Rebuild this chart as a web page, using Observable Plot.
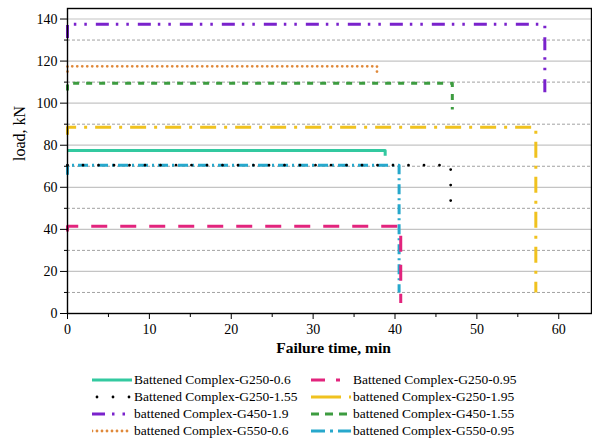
<!DOCTYPE html>
<html>
<head>
<meta charset="utf-8">
<script src="https://cdn.jsdelivr.net/npm/d3@7"></script>
<script src="https://cdn.jsdelivr.net/npm/@observablehq/plot@0.6"></script>
<style>
  body { margin: 0; background: white; font-family: "Liberation Serif", Tinos, "Times New Roman", "DejaVu Serif", serif; }
  #wrap { position: relative; width: 592px; height: 438px; }
  #chart svg, #chart svg text { font-family: "Liberation Serif", Tinos, "Times New Roman", "DejaVu Serif", serif !important; }
  #legend { position: absolute; left: 0; top: 371px; width: 592px; }
  .item { position: absolute; height: 17px; display: flex; align-items: center; font-size: 13.5px; white-space: nowrap; color: #000; }
  .item svg { flex: none; }
</style>
</head>
<body>
<div id="wrap"><div id="chart"></div><div id="legend"></div></div>
<script>
// ---- data ----
const seriesNames = [
  "Battened Complex-G250-0.6",
  "Battened Complex-G250-0.95",
  "Battened Complex-G250-1.55",
  "battened Complex-G250-1.95",
  "battened Complex-G450-1.9",
  "battened Complex-G450-1.55",
  "battened Complex-G550-0.6",
  "battened Complex-G550-0.95"
];
const timeG250_06  = [0, 38.8, 38.8];
const loadG250_06  = [77.5, 77.5, 75];
const timeG250_095 = [0, 0, 40.7, 40.7];
const loadG250_095 = [39, 41.5, 41.5, 5];
const timeG250_155 = [0, 46.8, 46.8];
const loadG250_155 = [70.5, 70.5, 48];
const timeG250_195 = [0, 0, 57.2, 57.2];
const loadG250_195 = [85, 88.5, 88.5, 10];
const timeG450_19  = [0, 0, 58.3, 58.3];
const loadG450_19  = [131, 137.5, 137.5, 105];
const timeG450_155 = [0, 0, 47, 47];
const loadG450_155 = [106, 109.5, 109.5, 97];
const timeG550_06  = [0, 0, 37.8, 37.8];
const loadG550_06  = [115, 117.5, 117.5, 113.5];
const timeG550_095 = [0, 0, 40.5, 40.5];
const loadG550_095 = [66, 70.5, 70.5, 10];

const xMajorTicks = [0, 10, 20, 30, 40, 50, 60];
const xMinorTicks = [5, 15, 25, 35, 45, 55];
const yMajorTicks = [0, 20, 40, 60, 80, 100, 120, 140];
const yMinorTicks = [10, 30, 50, 70, 90, 110, 130];

// ---- styles ----
const seriesData = [
  [timeG250_06, loadG250_06],
  [timeG250_095, loadG250_095],
  [timeG250_155, loadG250_155],
  [timeG250_195, loadG250_195],
  [timeG450_19, loadG450_19],
  [timeG450_155, loadG450_155],
  [timeG550_06, loadG550_06],
  [timeG550_095, loadG550_095]
];
const styles = [
  {stroke: "#33c9a0", strokeWidth: 3, dash: null, cap: "butt"},
  {stroke: "#e2247d", strokeWidth: 3, dash: "16 13", cap: "butt"},
  {stroke: "#000000", strokeWidth: 2.8, dash: "0 15.5", cap: "round"},
  {stroke: "#f0c21f", strokeWidth: 3, dash: "16 8 3 8", cap: "butt"},
  {stroke: "#7a22cc", strokeWidth: 3, dash: "13 7 2.5 8 2.5 9", cap: "butt"},
  {stroke: "#3d9c40", strokeWidth: 3, dash: "6 7", cap: "butt"},
  {stroke: "#e0893a", strokeWidth: 2.8, dash: "0 5", cap: "round"},
  {stroke: "#27a8cc", strokeWidth: 3, dash: "10 4 2 4", cap: "butt"}
];
const legendDash = ["", "14 11 4", "0 16", "30 8 3", "13 7 2.5 8 2.5 9", "8 6", "0 5", "14 5 3 5"];
const drawOrder = [4, 6, 5, 3, 0, 7, 1, 2];
const serif = "'Liberation Serif', Tinos, 'Times New Roman', 'DejaVu Serif', serif";

const lineMarks = drawOrder.map(k => {
  const [t, l] = seriesData[k];
  const s = styles[k];
  return Plot.line(d3.range(t.length), {
    x: i => t[i], y: i => l[i],
    stroke: s.stroke, strokeWidth: s.strokeWidth,
    strokeDasharray: s.dash, strokeLinecap: s.cap, strokeLinejoin: "round"
  });
});

const chart = Plot.plot({
  width: 592, height: 365,
  marginLeft: 67, marginRight: 1, marginTop: 8, marginBottom: 52,
  style: {fontFamily: serif, fontSize: "14px", background: "white", color: "#000"},
  x: {domain: [0, 64]},
  y: {domain: [0, 145]},
  marks: [
    Plot.ruleY(yMajorTicks.filter(d => d > 0), {stroke: "#c4c4c4", strokeWidth: 1.2}),
    Plot.ruleY(yMinorTicks, {stroke: "#8a8a8a", strokeWidth: 0.8, strokeDasharray: "3 2"}),
    ...lineMarks,
    Plot.frame({stroke: "#000", strokeWidth: 1.4}),
    Plot.axisX(xMajorTicks, {tickSize: 6, tickPadding: 5, label: null, fontSize: 14, fontFamily: serif}),
    Plot.axisX(xMinorTicks, {tickSize: 4, tickFormat: () => "", label: null}),
    Plot.axisY(yMajorTicks, {tickSize: 7, tickPadding: 3, label: null, fontSize: 14, fontFamily: serif}),
    Plot.axisY(yMinorTicks, {tickSize: 3, tickFormat: () => "", label: null}),
    Plot.text(["Failure time, min"], {frameAnchor: "bottom", dy: 39, dx: 4, fontSize: 15.5, fontWeight: "bold", fontFamily: serif, fill: "#000"}),
    Plot.text(["load, kN"], {frameAnchor: "left", dx: -48, dy: 0, rotate: -90, fontSize: 16, fontFamily: serif, fill: "#000"})
  ]
});
document.getElementById("chart").appendChild(chart);

// ---- legend ----
const legend = document.getElementById("legend");
const colLeft = [92, 311];
seriesNames.forEach((name, idx) => {
  const row = Math.floor(idx / 2), col = idx % 2;
  const s = styles[idx];
  const item = document.createElement("div");
  item.className = "item";
  item.style.top = (row * 17) + "px";
  item.style.left = colLeft[col] + "px";
  const svgNS = "http://www.w3.org/2000/svg";
  const sw = document.createElementNS(svgNS, "svg");
  sw.setAttribute("width", 40); sw.setAttribute("height", 10);
  const ln = document.createElementNS(svgNS, "line");
  ln.setAttribute("x1", idx === 2 ? 5 : 0); ln.setAttribute("x2", 40);
  ln.setAttribute("y1", 5); ln.setAttribute("y2", 5);
  ln.setAttribute("stroke", s.stroke);
  ln.setAttribute("stroke-width", s.strokeWidth);
  if (legendDash[idx]) ln.setAttribute("stroke-dasharray", legendDash[idx]);
  ln.setAttribute("stroke-linecap", s.cap);
  sw.appendChild(ln);
  item.appendChild(sw);
  const txt = document.createElement("span");
  txt.textContent = name;
  txt.style.marginLeft = "2px";
  item.appendChild(txt);
  legend.appendChild(item);
});
</script>
</body>
</html>
